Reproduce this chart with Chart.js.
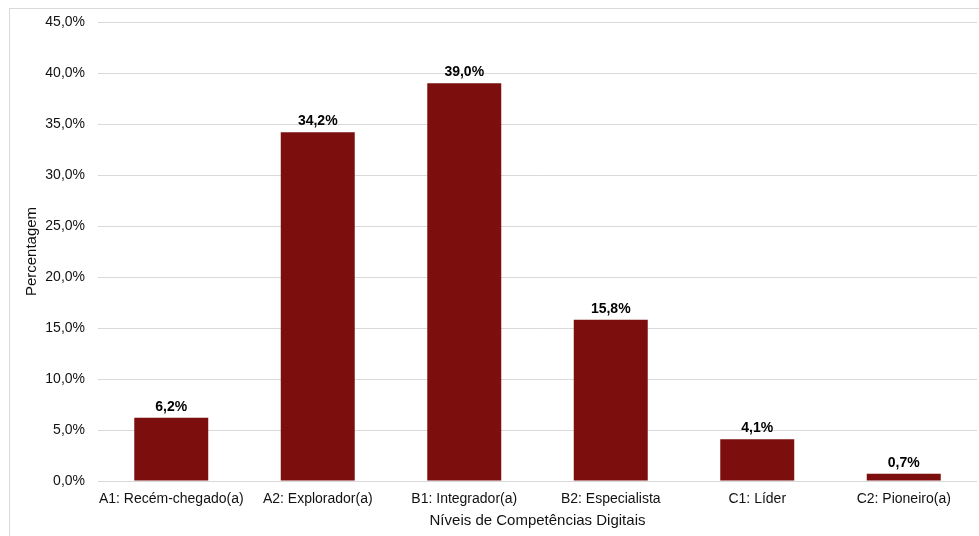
<!DOCTYPE html>
<html>
<head>
<meta charset="utf-8">
<script src="https://cdn.jsdelivr.net/npm/chart.js@4.4.1/dist/chart.umd.min.js"></script>
<style>
    html, body { margin: 0; padding: 0; background: #fff; }
    .wrap { width: 979px; height: 536px; position: relative; }
</style>
</head>
<body>
<div class="wrap"><canvas id="levelsChart"></canvas></div>
<script>
const categories = ['A1: Recém-chegado(a)', 'A2: Explorador(a)', 'B1: Integrador(a)', 'B2: Especialista', 'C1: Líder', 'C2: Pioneiro(a)'];
const percentages = [6.2, 34.2, 39.0, 15.8, 4.1, 0.7];
const yTicks = [0, 5, 10, 15, 20, 25, 30, 35, 40, 45];

const FONT = '"Liberation Sans", Arial, sans-serif';

function fmt(v) {
    return v.toFixed(1).replace('.', ',') + '%';
}

// frame around the whole chart + value labels above bars
const decorations = {
    id: 'decorations',
    beforeDraw(chart) {
        const c = chart.ctx;
        c.save();
        c.strokeStyle = '#d9d9d9';
        c.lineWidth = 1;
        c.strokeRect(9.5, 8.5, 990, 560);
        c.restore();
    },
    afterDatasetsDraw(chart) {
        const c = chart.ctx;
        const meta = chart.getDatasetMeta(0);
        c.save();
        c.font = 'bold 14px ' + FONT;
        c.fillStyle = '#000';
        c.textAlign = 'center';
        c.textBaseline = 'bottom';
        meta.data.forEach((bar, i) => {
            c.fillText(fmt(percentages[i]), bar.x, bar.y - 4);
        });
        c.restore();
    }
};

document.addEventListener('DOMContentLoaded', function() {
    const ctx = document.getElementById('levelsChart').getContext('2d');
    new Chart(ctx, {
        type: 'bar',
        data: {
            labels: categories,
            datasets: [{
                label: 'Percentagem',
                data: percentages,
                backgroundColor: '#7C0E0E',
                categoryPercentage: 1,
                barPercentage: 0.505
            }]
        },
        options: {
            responsive: true,
            maintainAspectRatio: false,
            animation: false,
            layout: { padding: { left: 10, top: 22, right: 2, bottom: 0 } },
            plugins: {
                legend: { display: false },
                tooltip: { enabled: false }
            },
            scales: {
                x: {
                    grid: { display: false, drawTicks: false },
                    border: { display: false },
                    ticks: {
                        color: '#111',
                        font: { family: FONT, size: 14 },
                        padding: 10,
                        maxRotation: 0,
                        autoSkip: false
                    },
                    title: {
                        display: true,
                        text: 'Níveis de Competências Digitais',
                        color: '#111',
                        font: { family: FONT, size: 15 },
                        padding: { top: 0, bottom: 6 }
                    },
                    afterFit(scale) { scale.height = 55; }
                },
                y: {
                    min: 0,
                    max: 45,
                    afterBuildTicks(scale) {
                        scale.ticks = yTicks.map(v => ({ value: v }));
                    },
                    grid: { color: '#d9d9d9', drawTicks: false },
                    border: { display: false },
                    ticks: {
                        color: '#111',
                        font: { family: FONT, size: 14 },
                        padding: 13,
                        callback: v => fmt(v)
                    },
                    title: {
                        display: true,
                        text: 'Percentagem',
                        color: '#111',
                        font: { family: FONT, size: 15 },
                        padding: { top: 13, bottom: 0 }
                    },
                    afterFit(scale) { scale.width = 88; }
                }
            }
        },
        plugins: [decorations]
    });
});
</script>
</body>
</html>
